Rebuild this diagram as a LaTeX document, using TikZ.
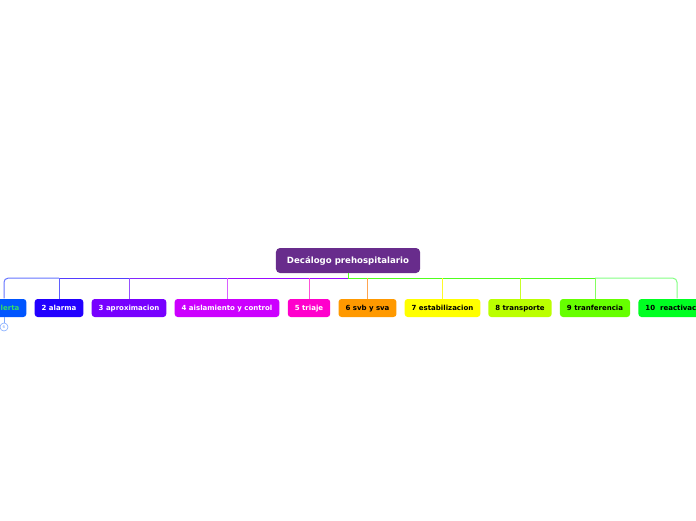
\documentclass[tikz,border=0pt]{standalone}
\usepackage{fontspec}
\setmainfont{DejaVu Sans}
\usepackage{tikz}
\usetikzlibrary{positioning, calc}
\definecolor{rootPurple}{HTML}{682C8C}
\definecolor{cAlerta}{HTML}{0055FF}
\definecolor{cAlertaTxt}{HTML}{33DD66}
\definecolor{cAlarma}{HTML}{2200FF}
\definecolor{cAprox}{HTML}{7700FF}
\definecolor{cAisla}{HTML}{CC00FF}
\definecolor{cTriaje}{HTML}{FF00CC}
\definecolor{cSvb}{HTML}{FF9900}
\definecolor{cEstab}{HTML}{FFFF00}
\definecolor{cTransp}{HTML}{BBFF00}
\definecolor{cTranf}{HTML}{66FF00}
\definecolor{cReact}{HTML}{00FF22}

\begin{document}
\begin{tikzpicture}[x=1pt, y=-1pt,
  topic/.style={fill=rootPurple, rounded corners=4pt, text=white, inner xsep=11pt,
    minimum height=25pt, font=\fontsize{8.6}{10}\selectfont\bfseries},
  sub/.style={rounded corners=3pt, inner xsep=7pt, inner ysep=0pt, minimum height=18pt,
    text height=7pt, text depth=1.4pt, font=\fontsize{7}{8}\selectfont\bfseries},
  link/.style={line width=1pt}
]
  \useasboundingbox (0,0) rectangle (696,520);
  \clip (0,0) rectangle (696,520);

  \node[topic] (root) at (348, 260.5) {Decálogo prehospitalario};

  \node[sub, fill=cAlerta, text=cAlertaTxt] (alerta) at (4, 308) {1 alerta};
  \node[sub, fill=cAlarma, text=white] (alarma) at (59, 308) {2 alarma};
  \node[sub, fill=cAprox, text=white] (aprox) at (129, 308) {3 aproximacion};
  \node[sub, fill=cAisla, text=white] (aisla) at (227, 308) {4 aislamiento y control};
  \node[sub, fill=cTriaje, text=white] (triaje) at (309, 308) {5 triaje};
  \node[sub, fill=cSvb, text=black] (svb) at (367.5, 308) {6 svb y sva};
  \node[sub, fill=cEstab, text=black] (estab) at (442.5, 308) {7 estabilizacion};
  \node[sub, fill=cTransp, text=black] (transp) at (520, 308) {8 transporte};
  \node[sub, fill=cTranf, text=black] (tranf) at (595, 308) {9 tranferencia};
  \node[sub, fill=cReact, text=black] (react) at (677, 308) {10\ \ reactivacion};

  \node[circle, draw=cAlerta!50, fill=white, line width=0.6pt, inner sep=0pt, minimum size=8pt,
    text=cAlerta!50, font=\fontsize{4}{4}\selectfont] (fold) at (4, 327) {6};
  \draw[link, cAlerta!50] (alerta.south) -- (fold.north);

  % branches, left side
  \coordinate (hub) at ($(root.south)+(0,5)$);
  \draw[link, rounded corners=4pt, color={rgb,255:red,100;green,115;blue,255}]
    (alarma.north |- hub) -- (alerta.north |- hub) -- ($(alerta.north)+(0,-0.5)$);
  \draw[link, color={rgb,255:red,85;green,60;blue,255}] (aprox.north |- hub) -- (alarma.north |- hub);
  \draw[link, color={rgb,255:red,130;green,40;blue,255}] (aisla.north |- hub) -- (aprox.north |- hub);
  \draw[link, color={rgb,255:red,155;green,10;blue,255}] (hub) -- (aisla.north |- hub);
  \draw[link, color={rgb,255:red,95;green,95;blue,255}] (alarma.north |- hub) -- (alarma.north);
  \draw[link, color={rgb,255:red,150;green,80;blue,255}] (aprox.north |- hub) -- (aprox.north);
  \draw[link, color={rgb,255:red,218;green,95;blue,255}] (aisla.north |- hub) -- (aisla.north);
  \draw[link, color={rgb,255:red,255;green,80;blue,215}] (triaje.north |- hub) -- (triaje.north);

  % branches, right side
  \draw[link, rounded corners=4pt, color={rgb,255:red,130;green,255;blue,130}]
    (tranf.north |- hub) -- (react.north |- hub) -- ($(react.north)+(0,-0.5)$);
  \draw[link, color={rgb,255:red,80;green,255;blue,30}] (root.south) -- (hub) -- (tranf.north |- hub);
  \draw[link, color={rgb,255:red,255;green,165;blue,80}] (svb.north |- hub) -- (svb.north);
  \draw[link, color={rgb,255:red,255;green,250;blue,40}] (estab.north |- hub) -- (estab.north);
  \draw[link, color={rgb,255:red,200;green,255;blue,40}] (transp.north |- hub) -- (transp.north);
  \draw[link, color={rgb,255:red,130;green,255;blue,95}] (tranf.north |- hub) -- (tranf.north);
\end{tikzpicture}
\end{document}
